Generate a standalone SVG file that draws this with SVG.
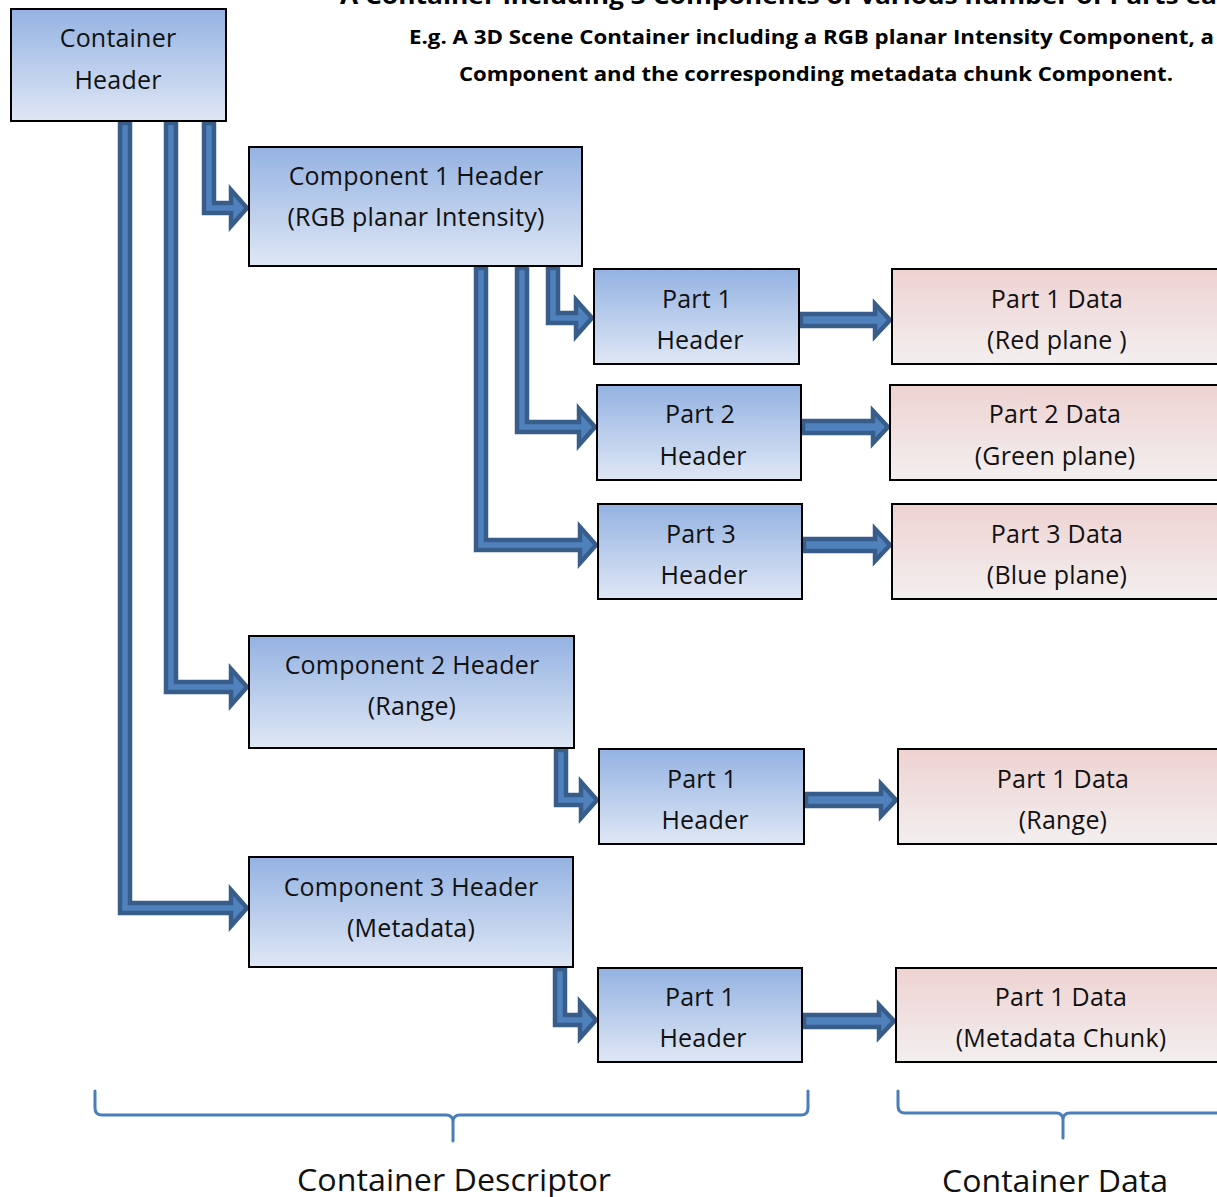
<svg xmlns="http://www.w3.org/2000/svg" width="1217" height="1197" viewBox="0 0 1217 1197">
  <defs>
    <linearGradient id="blueFill" x1="0" y1="0" x2="0" y2="1">
      <stop offset="0" stop-color="#94b2e2"/>
      <stop offset="1" stop-color="#dfe7f5"/>
    </linearGradient>
    <linearGradient id="pinkFill" x1="0" y1="0" x2="0" y2="1">
      <stop offset="0" stop-color="#efd2d2"/>
      <stop offset="1" stop-color="#f3efef"/>
    </linearGradient>
  </defs>
  <style>
    .hdr { fill: url(#blueFill); stroke: #000; stroke-width: 2; }
    .dat { fill: url(#pinkFill); stroke: #000; stroke-width: 2; }
    .lbl { font-family: "Open Sans", "Liberation Sans", sans-serif; font-size: 25px; letter-spacing: 0.2px; fill: #111; text-anchor: middle; }
    .ttl { font-family: "Open Sans", "Liberation Sans", sans-serif; font-weight: bold; fill: #000; }
    .big { font-family: "Open Sans", "Liberation Sans", sans-serif; font-size: 31px; fill: #111; text-anchor: middle; }
    .arr { fill: #4f81bd; stroke: #385d8a; stroke-width: 4.5; stroke-linejoin: miter; }
    .brace { fill: none; stroke: #4a7ebb; stroke-width: 3; stroke-linecap: round; }
  </style>

  <rect width="1217" height="1197" fill="#fff"/>

  <!-- title -->
  <g id="title">
    <text class="ttl" x="340" y="4" font-size="23" textLength="877" lengthAdjust="spacingAndGlyphs">A Container including 3 Components of various number of Parts ea</text>
    <text class="ttl" x="409" y="44" font-size="20" textLength="805" lengthAdjust="spacingAndGlyphs">E.g. A 3D Scene Container including a RGB planar Intensity Component, a</text>
    <text class="ttl" x="459" y="81" font-size="20" textLength="714" lengthAdjust="spacingAndGlyphs">Component and the corresponding metadata chunk Component.</text>
  </g>

  <!-- connectors: bent and straight block arrows -->
  <g id="connectors">
    <!-- container header to component headers -->
    <path class="arr" d="M204,123 V213 H231 V226 L247,208 L231,190 V203 H214 V123 Z"/>
    <path class="arr" d="M166,123 V692 H231 V705 L247,687 L231,669 V682 H176 V123 Z"/>
    <path class="arr" d="M120,123 V913 H231 V926 L247,908 L231,890 V903 H130 V123 Z"/>
    <!-- component 1 to its parts -->
    <path class="arr" d="M548,268 V323 H576 V336 L592,318 L576,300 V313 H558 V268 Z"/>
    <path class="arr" d="M517,268 V432 H579 V445 L595,427 L579,409 V422 H527 V268 Z"/>
    <path class="arr" d="M476,268 V550 H580 V563 L596,545 L580,527 V540 H486 V268 Z"/>
    <!-- component 2 to its part -->
    <path class="arr" d="M556,750 V805 H581 V818 L597,800 L581,782 V795 H566 V750 Z"/>
    <!-- component 3 to its part -->
    <path class="arr" d="M555,969 V1025 H580 V1038 L596,1020 L580,1002 V1015 H565 V969 Z"/>
    <!-- part headers to part data -->
    <path class="arr" d="M801,314 H875 V304 L890,320 L875,336 V326 H801 Z"/>
    <path class="arr" d="M803,421 H873 V411 L888,427 L873,443 V433 H803 Z"/>
    <path class="arr" d="M804,539 H875 V529 L890,545 L875,561 V551 H804 Z"/>
    <path class="arr" d="M806,794 H881 V784 L896,800 L881,816 V806 H806 Z"/>
    <path class="arr" d="M804,1015 H879 V1005 L894,1021 L879,1037 V1027 H804 Z"/>
  </g>

  <!-- header nodes -->
  <g id="container-header">
    <rect class="hdr" x="11" y="9" width="215" height="112"/>
    <text class="lbl" x="118" y="47">Container</text>
    <text class="lbl" x="118" y="89">Header</text>
  </g>
  <g id="component1-header">
    <rect class="hdr" x="249" y="147" width="333" height="119"/>
    <text class="lbl" x="416" y="185">Component 1 Header</text>
    <text class="lbl" x="416" y="226">(RGB planar Intensity)</text>
  </g>
  <g id="c1-part1-header">
    <rect class="hdr" x="594" y="269" width="205" height="95"/>
    <text class="lbl" x="697" y="308">Part 1</text>
    <text class="lbl" x="700" y="349">Header</text>
  </g>
  <g id="c1-part2-header">
    <rect class="hdr" x="597" y="385" width="204" height="95"/>
    <text class="lbl" x="700" y="423">Part 2</text>
    <text class="lbl" x="703" y="465">Header</text>
  </g>
  <g id="c1-part3-header">
    <rect class="hdr" x="598" y="504" width="204" height="95"/>
    <text class="lbl" x="701" y="543">Part 3</text>
    <text class="lbl" x="704" y="584">Header</text>
  </g>
  <g id="component2-header">
    <rect class="hdr" x="249" y="636" width="325" height="112"/>
    <text class="lbl" x="412" y="674">Component 2 Header</text>
    <text class="lbl" x="412" y="715">(Range)</text>
  </g>
  <g id="c2-part1-header">
    <rect class="hdr" x="599" y="749" width="205" height="95"/>
    <text class="lbl" x="702" y="788">Part 1</text>
    <text class="lbl" x="705" y="829">Header</text>
  </g>
  <g id="component3-header">
    <rect class="hdr" x="249" y="857" width="324" height="110"/>
    <text class="lbl" x="411" y="896">Component 3 Header</text>
    <text class="lbl" x="411" y="937">(Metadata)</text>
  </g>
  <g id="c3-part1-header">
    <rect class="hdr" x="598" y="968" width="204" height="94"/>
    <text class="lbl" x="700" y="1006">Part 1</text>
    <text class="lbl" x="703" y="1047">Header</text>
  </g>

  <!-- data nodes -->
  <g id="c1-part1-data">
    <rect class="dat" x="892" y="269" width="330" height="95"/>
    <text class="lbl" x="1057" y="308">Part 1 Data</text>
    <text class="lbl" x="1057" y="349">(Red plane )</text>
  </g>
  <g id="c1-part2-data">
    <rect class="dat" x="890" y="385" width="330" height="95"/>
    <text class="lbl" x="1055" y="423">Part 2 Data</text>
    <text class="lbl" x="1055" y="465">(Green plane)</text>
  </g>
  <g id="c1-part3-data">
    <rect class="dat" x="892" y="504" width="330" height="95"/>
    <text class="lbl" x="1057" y="543">Part 3 Data</text>
    <text class="lbl" x="1057" y="584">(Blue plane)</text>
  </g>
  <g id="c2-part1-data">
    <rect class="dat" x="898" y="749" width="330" height="95"/>
    <text class="lbl" x="1063" y="788">Part 1 Data</text>
    <text class="lbl" x="1063" y="829">(Range)</text>
  </g>
  <g id="c3-part1-data">
    <rect class="dat" x="896" y="968" width="330" height="94"/>
    <text class="lbl" x="1061" y="1006">Part 1 Data</text>
    <text class="lbl" x="1061" y="1047">(Metadata Chunk)</text>
  </g>

  <!-- braces and captions -->
  <g id="descriptor-brace">
    <path class="brace" d="M95,1091 V1108 Q95,1115 102,1115 H446 Q453,1115 453,1122 V1141 M453,1122 Q453,1115 460,1115 H801 Q808,1115 808,1108 V1091"/>
    <text class="big" x="454" y="1191" textLength="314" lengthAdjust="spacingAndGlyphs">Container Descriptor</text>
  </g>
  <g id="data-brace">
    <path class="brace" d="M898,1091 V1106 Q898,1113 905,1113 H1056 Q1063,1113 1063,1120 V1138 M1063,1120 Q1063,1113 1070,1113 H1230"/>
    <text class="big" x="1055" y="1192" textLength="226" lengthAdjust="spacingAndGlyphs">Container Data</text>
  </g>
</svg>
